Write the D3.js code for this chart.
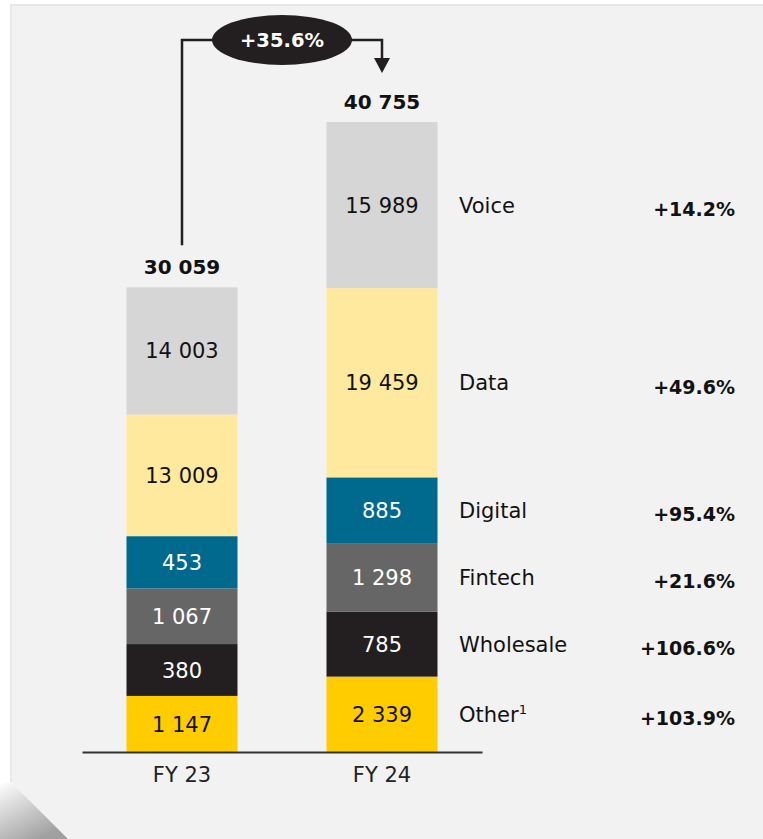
<!DOCTYPE html>
<html>
<head>
<meta charset="utf-8">
<script src="https://cdn.jsdelivr.net/npm/d3@7"></script>
<style>
  body { margin: 0; background: #fff; }
  svg text { font-family: "DejaVu Sans", "Noto Sans", sans-serif; }
</style>
</head>
<body>
<div id="chart"></div>
<script>
/*** DATA ***/
const years = ["FY 23", "FY 24"];
const segments = ["Other", "Wholesale", "Fintech", "Digital", "Data", "Voice"];
const fy23 = [1147, 380, 1067, 453, 13009, 14003];
const fy24 = [2339, 785, 1298, 885, 19459, 15989];
const totals = [30059, 40755];
const growth = ["+103.9%", "+106.6%", "+21.6%", "+95.4%", "+49.6%", "+14.2%"];
const totalGrowth = "+35.6%";

/*** STYLE ***/
const colors = {Other: "#ffcc00", Wholesale: "#231f20", Fintech: "#666666",
                Digital: "#006a8e", Data: "#ffe99e", Voice: "#d6d6d6"};
const whiteText = ["Wholesale", "Fintech", "Digital"];
const MIN_SEG = 9000; // extra weight so small segments stay readable

const fmt = n => d3.format(",")(n).replace(/,/g, " ");

const W = 763, H = 839;
const svg = d3.select("#chart").append("svg")
    .attr("width", W).attr("height", H);

// panel with folded corner
const defs = svg.append("defs");
const grad = defs.append("linearGradient").attr("id", "fold")
    .attr("x1", 0).attr("y1", 0).attr("x2", 0.6).attr("y2", 1);
grad.append("stop").attr("offset", "0%").attr("stop-color", "#ffffff");
grad.append("stop").attr("offset", "100%").attr("stop-color", "#a0a0a0");

svg.append("path")
    .attr("d", "M11,5 H763 V839 H68 L11,782 Z")
    .attr("fill", "#f2f2f2");
svg.append("path")
    .attr("d", "M11,782 V5 H763")
    .attr("fill", "none").attr("stroke", "#e2e2e2").attr("stroke-width", 1.5);
svg.append("path")
    .attr("d", "M0,784 L11,782 L68,839 H0 Z")
    .attr("fill", "url(#fold)");

/*** SCALES ***/
const baseY = 752;
const x = d3.scaleBand().domain(years).range([82, 482])
    .paddingInner(0.445).paddingOuter(0.2225);
const y = d3.scaleLinear().domain([0, d3.max(totals)]).range([baseY, 122]);

const g = svg.append("g");

const series = [fy23, fy24];
const layout = []; // per-bar segment rectangles

series.forEach(function (vals, i) {
    const weights = vals.map(v => v + MIN_SEG);
    const seg = d3.scaleLinear().domain([0, d3.sum(weights)])
        .range([y(0), y(totals[i])]);
    let cum = 0;
    const rows = vals.map(function (v, k) {
        const y0 = seg(cum);
        cum += weights[k];
        const y1 = seg(cum);
        return {year: years[i], name: segments[k], value: v, top: y1, bottom: y0};
    });
    layout.push(rows);
});

layout.forEach(function (rows) {
    const bar = g.append("g");
    bar.selectAll("rect")
        .data(rows)
        .enter().append("rect")
        .attr("x", d => x(d.year))
        .attr("width", x.bandwidth())
        .attr("y", d => d.top)
        .attr("height", d => d.bottom - d.top)
        .attr("fill", d => colors[d.name]);
    bar.selectAll("text")
        .data(rows)
        .enter().append("text")
        .attr("x", d => x(d.year) + x.bandwidth() / 2)
        .attr("y", d => (d.top + d.bottom) / 2)
        .attr("dy", "0.36em")
        .attr("text-anchor", "middle")
        .attr("font-size", 21)
        .attr("fill", d => whiteText.includes(d.name) ? "#ffffff" : "#111111")
        .text(d => fmt(d.value));
});

// totals
g.selectAll(".total")
    .data(totals)
    .enter().append("text")
    .attr("class", "total")
    .attr("x", (d, i) => x(years[i]) + x.bandwidth() / 2)
    .attr("y", d => y(d) - 13)
    .attr("text-anchor", "middle")
    .attr("font-size", 20)
    .attr("font-weight", 700)
    .attr("fill", "#111")
    .text(d => fmt(d));

// axis
const axis = svg.append("g")
    .attr("transform", "translate(0," + baseY + ")")
    .call(d3.axisBottom(x).tickSize(0).tickPadding(15));
axis.select(".domain").attr("stroke", "#333").attr("stroke-width", 2);
axis.selectAll("text")
    .attr("font-size", 21)
    .attr("fill", "#222")
    .style("font-family", "\"DejaVu Sans\", sans-serif");

// right side legend with growth
const last = layout[layout.length - 1];
const legend = svg.append("g");
legend.selectAll(".name")
    .data(last)
    .enter().append("text")
    .attr("class", "name")
    .attr("x", 459)
    .attr("y", d => (d.top + d.bottom) / 2)
    .attr("dy", "0.36em")
    .attr("font-size", 21)
    .attr("fill", "#111")
    .each(function (d) {
        const t = d3.select(this);
        t.append("tspan").text(d.name);
        if (d.name === "Other") {
            t.append("tspan").attr("font-size", 13).attr("dy", "-0.6em").text("1");
        }
    });
legend.selectAll(".pct")
    .data(last)
    .enter().append("text")
    .attr("class", "pct")
    .attr("x", 735)
    .attr("y", (d, i) => (d.top + d.bottom) / 2 + 4)
    .attr("dy", "0.36em")
    .attr("text-anchor", "end")
    .attr("font-size", 19)
    .attr("font-weight", 700)
    .attr("fill", "#111")
    .text((d, i) => growth[i]);

// growth arrow
const cx0 = x(years[0]) + x.bandwidth() / 2;
const cx1 = x(years[1]) + x.bandwidth() / 2;
const topY = 40;
const arrow = svg.append("g");
arrow.append("path")
    .attr("d", "M" + cx0 + "," + (y(totals[0]) - 42) + " V" + topY + " H" + cx1 + " V" + (y(totals[1]) - 60))
    .attr("fill", "none").attr("stroke", "#231f20").attr("stroke-width", 2.5);
arrow.append("path")
    .attr("d", d3.line()([[cx1 - 8, y(totals[1]) - 64], [cx1 + 8, y(totals[1]) - 64], [cx1, y(totals[1]) - 49]]) + "Z")
    .attr("fill", "#231f20");
arrow.append("ellipse")
    .attr("cx", (cx0 + cx1) / 2).attr("cy", topY)
    .attr("rx", 70).attr("ry", 25)
    .attr("fill", "#231f20");
arrow.append("text")
    .attr("x", (cx0 + cx1) / 2).attr("y", topY)
    .attr("dy", "0.36em")
    .attr("text-anchor", "middle")
    .attr("font-size", 19.5)
    .attr("font-weight", 700)
    .attr("fill", "#fff")
    .text(totalGrowth);
</script>
</body>
</html>
